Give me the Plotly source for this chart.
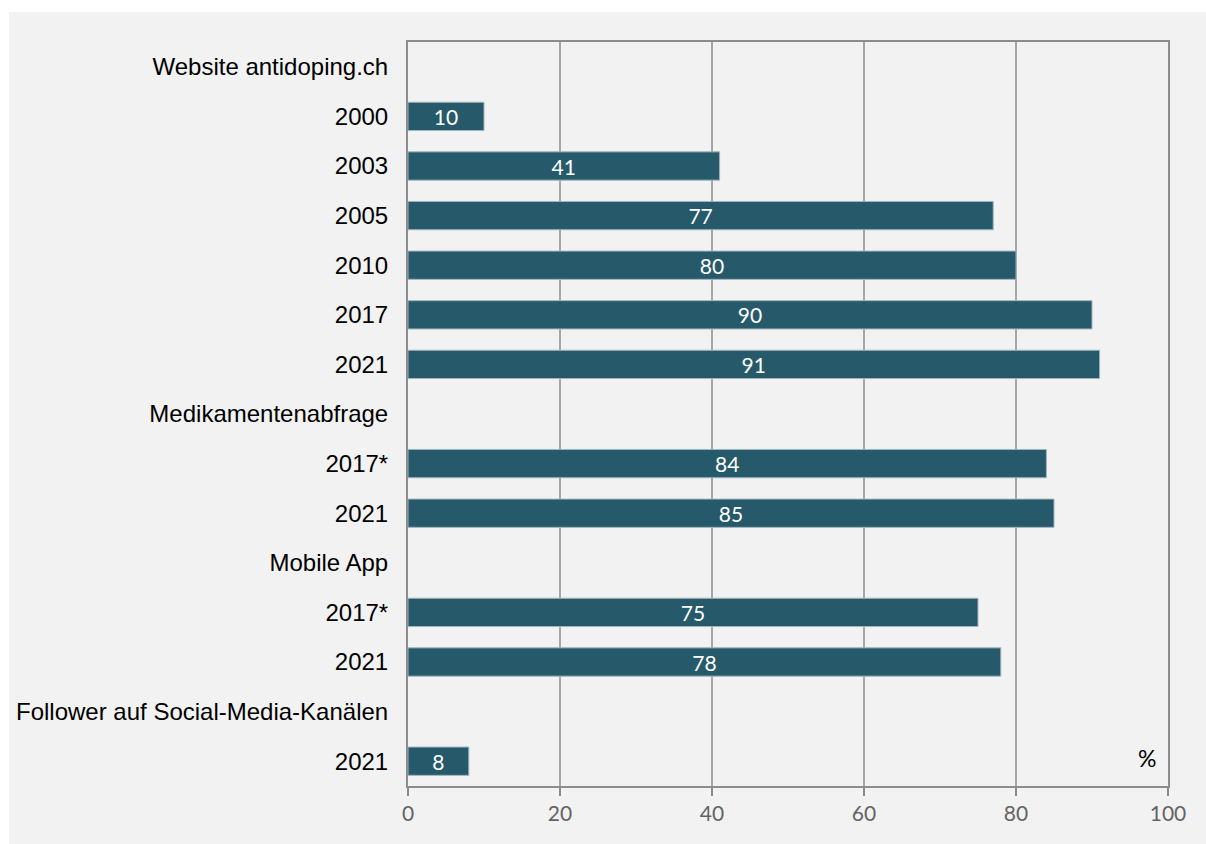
import plotly.graph_objects as go

# Row labels from top to bottom; group headers carry no value
row_labels = [
    "Website antidoping.ch", "2000", "2003", "2005", "2010", "2017", "2021",
    "Medikamentenabfrage", "2017*", "2021",
    "Mobile App", "2017*", "2021",
    "Follower auf Social-Media-Kanälen", "2021",
]
row_values = [None, 10, 41, 77, 80, 90, 91, None, 84, 85, None, 75, 78, None, 8]
x_ticks = [0, 20, 40, 60, 80, 100]

rows = list(range(len(row_labels)))
bar_text = ["" if v is None else str(v) for v in row_values]

BAR = "#265a6b"
PANEL = "#f2f2f2"
AXIS = "#8c8c8c"
GRID = "#a6a6a6"
NUM_FONT = "Lato, Open Sans, sans-serif"

fig = go.Figure(
    go.Bar(
        x=row_values,
        y=rows,
        orientation="h",
        marker=dict(color=BAR, line=dict(color="#9fb4bd", width=1)),
        width=0.57,
        text=bar_text,
        textposition="inside",
        insidetextanchor="middle",
        constraintext="none",
        textangle=0,
        textfont=dict(family=NUM_FONT, size=21, color="white"),
        hoverinfo="skip",
    )
)

W, H = 1206, 844
L, R, T, B = 408, 38, 42, 58
pw, ph = W - L - R, H - T - B


def px_x(x):
    return (x - L) / pw


def px_y(y):
    return (T + ph - y) / ph


fig.update_layout(
    width=W,
    height=H,
    margin=dict(l=L, r=R, t=T, b=B, pad=0),
    paper_bgcolor="white",
    plot_bgcolor=PANEL,
    showlegend=False,
    shapes=[
        # grey panel behind the whole chart
        dict(
            type="rect", xref="paper", yref="paper", layer="below",
            x0=px_x(9), x1=px_x(W + 2),
            y0=px_y(H + 2), y1=px_y(12),
            fillcolor=PANEL, line=dict(width=0),
        ),
    ],
    annotations=[
        dict(
            text="%", xref="paper", yref="paper",
            x=px_x(1147), y=px_y(758),
            showarrow=False, xanchor="center", yanchor="middle",
            font=dict(family=NUM_FONT, size=23, color="black"),
        )
    ],
)

fig.update_xaxes(
    range=[0, 100],
    tickvals=x_ticks,
    showgrid=True,
    gridcolor=GRID,
    gridwidth=2,
    showline=True,
    linecolor=AXIS,
    linewidth=2,
    mirror=True,
    ticks="outside",
    ticklen=8,
    tickwidth=2,
    tickcolor=AXIS,
    tickfont=dict(family=NUM_FONT, size=21, color="#636363"),
    zeroline=False,
    fixedrange=True,
)

fig.update_yaxes(
    range=[len(rows) - 0.5, -0.5],
    tickvals=rows,
    ticktext=row_labels,
    showgrid=False,
    showline=True,
    linecolor=AXIS,
    linewidth=2,
    mirror=True,
    ticks="",
    ticklabelstandoff=13,
    tickfont=dict(family="Liberation Sans, Arial, sans-serif", size=24, color="black"),
    zeroline=False,
    fixedrange=True,
)

fig.write_html("out.html")
